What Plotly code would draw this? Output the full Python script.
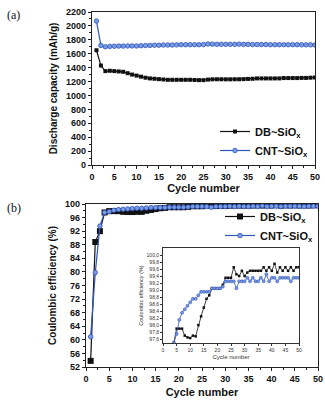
import plotly.graph_objects as go

W, H = 325, 400
cycles = list(range(1, 51))

# Panel (a) discharge capacity (mAh/g)
cap_db = [1650, 1430, 1350, 1355, 1350, 1345, 1340, 1320, 1300, 1285,
          1270, 1255, 1245, 1240, 1235, 1230, 1225, 1225, 1225, 1225,
          1225, 1225, 1222, 1220, 1220, 1228, 1232, 1233, 1233, 1232,
          1232, 1233, 1233, 1235, 1238, 1240, 1245, 1245, 1245, 1245,
          1245, 1245, 1250, 1250, 1250, 1250, 1252, 1252, 1255, 1258]
cap_cnt = [2070, 1720, 1700, 1705, 1708, 1710, 1710, 1712, 1712, 1712,
           1715, 1718, 1720, 1722, 1722, 1725, 1725, 1725, 1728, 1730,
           1730, 1730, 1730, 1730, 1732, 1740, 1738, 1735, 1735, 1735,
           1735, 1735, 1738, 1735, 1735, 1732, 1732, 1732, 1732, 1730,
           1730, 1730, 1730, 1730, 1730, 1730, 1728, 1728, 1728, 1725]

# Panel (b) coulombic efficiency (%)
ce_db = [53.8, 88.8, 92.0, 97.5, 97.9, 97.9, 97.9, 97.7, 97.65, 97.63,
         97.7, 97.68, 98.0, 98.25, 98.5, 98.75, 98.85, 99.05, 99.05, 99.05,
         99.05, 99.15, 99.35, 99.35, 99.35, 99.65, 99.45, 99.4, 99.55, 99.4,
         99.5, 99.55, 99.55, 99.55, 99.55, 99.55, 99.65, 99.55, 99.65, 99.55,
         99.75, 99.5, 99.65, 99.55, 99.65, 99.55, 99.65, 99.55, 99.65, 99.65]
ce_cnt = [60.9, 79.8, 93.5, 97.5, 97.75, 98.15, 98.35, 98.45, 98.55, 98.65,
          98.75, 98.75, 98.85, 98.95, 98.95, 98.95, 98.95, 99.05, 99.05, 99.05,
          99.05, 99.1, 99.25, 99.25, 99.25, 99.25, 99.05, 99.25, 99.25, 99.25,
          99.35, 99.25, 99.35, 99.25, 99.25, 99.35, 99.25, 99.45, 99.25, 99.35,
          99.35, 99.25, 99.35, 99.35, 99.35, 99.35, 99.25, 99.35, 99.35, 99.35]

# Tick labels
inset_yvals = [97.6, 97.8, 98.0, 98.2, 98.4, 98.6, 98.8, 99.0, 99.2, 99.4, 99.6, 99.8, 100.0]
inset_ytext = ["97,6", "97,8", "98,0", "98,2", "98,4", "98,6", "98,8", "99,0",
               "99,2", "99,4", "99,6", "99,8", "100,0"]

names = ["DB~SiO<sub>x</sub>", "CNT~SiO<sub>x</sub>"]
BLACK = "#111111"
BLUE = "#2f55c0"
BLUE_FILL = "#7b9be0"
FONT = "Liberation Sans, Arial, sans-serif"

def px_x(a, b):
    return [a / W, b / W]

def px_y(top, bottom):
    return [1 - bottom / H, 1 - top / H]

fig = go.Figure()

# (a)
fig.add_trace(go.Scatter(x=cycles, y=cap_db, mode="lines+markers", name=names[0],
                         line=dict(color=BLACK, width=1.2),
                         marker=dict(symbol="square", size=4, color=BLACK),
                         xaxis="x", yaxis="y", legend="legend"))
fig.add_trace(go.Scatter(x=cycles, y=cap_cnt, mode="lines+markers", name=names[1],
                         line=dict(color=BLUE, width=1.2),
                         marker=dict(symbol="circle", size=4.5, color=BLUE_FILL,
                                     line=dict(color=BLUE, width=0.8)),
                         xaxis="x", yaxis="y", legend="legend"))
# (b)
fig.add_trace(go.Scatter(x=cycles, y=ce_db, mode="lines+markers", name=names[0],
                         line=dict(color=BLACK, width=1.2),
                         marker=dict(symbol="square", size=6, color=BLACK),
                         xaxis="x2", yaxis="y2", legend="legend2"))
fig.add_trace(go.Scatter(x=cycles, y=ce_cnt, mode="lines+markers", name=names[1],
                         line=dict(color=BLUE, width=1.2),
                         marker=dict(symbol="circle", size=4.5, color=BLUE_FILL,
                                     line=dict(color=BLUE, width=0.8)),
                         xaxis="x2", yaxis="y2", legend="legend2"))
# inset
fig.add_trace(go.Scatter(x=cycles, y=ce_db, mode="lines+markers", showlegend=False,
                         line=dict(color=BLACK, width=0.8),
                         marker=dict(symbol="square", size=2.5, color=BLACK),
                         xaxis="x3", yaxis="y3"))
fig.add_trace(go.Scatter(x=cycles, y=ce_cnt, mode="lines+markers", showlegend=False,
                         line=dict(color=BLUE, width=0.8),
                         marker=dict(symbol="circle", size=3, color=BLUE_FILL,
                                     line=dict(color=BLUE, width=0.6)),
                         xaxis="x3", yaxis="y3"))

tickfont = dict(family=FONT, size=9, color="#111", weight="bold")
titlefont = dict(family=FONT, size=11, color="#111", weight="bold")
common = dict(showline=True, linecolor="#222", linewidth=1.3, mirror=True,
              ticks="outside", ticklen=3, tickwidth=1, tickcolor="#222",
              showgrid=False, zeroline=False, automargin=False, tickfont=tickfont)

fig.update_layout(
    width=W, height=H, margin=dict(l=0, r=0, t=0, b=0),
    paper_bgcolor="white", plot_bgcolor="white",
    xaxis=dict(domain=px_x(92, 315), anchor="y", range=[0, 50], dtick=5,
               minor=dict(ticks="outside", ticklen=2, dtick=2.5, tickcolor="#222"),
               title=dict(text="Cycle number", font=titlefont, standoff=2), **common),
    yaxis=dict(domain=px_y(12, 165), anchor="x", range=[0, 2200], dtick=200,
               minor=dict(ticks="outside", ticklen=2, dtick=100, tickcolor="#222"),
               title=dict(text="Discharge capacity (mAh/g)", font=dict(family=FONT, size=10, color="#111", weight="bold"), standoff=6), **common),
    xaxis2=dict(domain=px_x(86, 318), anchor="y2", range=[0, 50], dtick=5,
                minor=dict(ticks="outside", ticklen=2, dtick=2.5, tickcolor="#222"),
                title=dict(text="Cycle number", font=titlefont, standoff=5), **common),
    yaxis2=dict(domain=px_y(204, 367), anchor="x2", range=[52, 100], dtick=4,
                minor=dict(ticks="outside", ticklen=2, dtick=2, tickcolor="#222"),
                title=dict(text="Coulombic efficiency (%)", font=dict(family=FONT, size=10, color="#111", weight="bold"), standoff=6), **common),
    xaxis3=dict(domain=px_x(163, 299), anchor="y3", range=[0, 50], dtick=5,
                showline=True, linecolor="#333", linewidth=0.8, mirror=True,
                ticks="outside", ticklen=2, tickwidth=0.6, tickcolor="#333",
                showgrid=False, zeroline=False, automargin=False,
                tickfont=dict(family=FONT, size=5, color="#333"),
                title=dict(text="Cycle number", font=dict(family=FONT, size=6, color="#333"), standoff=2)),
    yaxis3=dict(domain=px_y(248, 343), anchor="x3", range=[97.49, 100.2],
                tickvals=inset_yvals, ticktext=inset_ytext,
                showline=True, linecolor="#333", linewidth=0.8, mirror=True,
                ticks="outside", ticklen=2, tickwidth=0.6, tickcolor="#333",
                showgrid=False, zeroline=False, automargin=False,
                tickfont=dict(family=FONT, size=5, color="#333"),
                title=dict(text="Coulombic efficiency (%)", font=dict(family=FONT, size=5.5, color="#333"), standoff=2)),
    legend=dict(x=215 / W, y=1 - 117 / H, xanchor="left", yanchor="top",
                bgcolor="rgba(0,0,0,0)", itemwidth=30, tracegroupgap=0,
                font=dict(family=FONT, size=11, color="#111", weight="bold")),
    legend2=dict(x=220 / W, y=1 - 202 / H, xanchor="left", yanchor="top",
                 bgcolor="rgba(0,0,0,0)", itemwidth=30, tracegroupgap=0,
                 font=dict(family=FONT, size=11, color="#111", weight="bold")),
    annotations=[
        dict(text="(a)", x=5 / W, y=1 - 15 / H, xref="paper", yref="paper",
             xanchor="left", yanchor="middle", showarrow=False,
             font=dict(family="Liberation Serif, Times New Roman, serif", size=12, color="#111")),
        dict(text="(b)", x=5 / W, y=1 - 208 / H, xref="paper", yref="paper",
             xanchor="left", yanchor="middle", showarrow=False,
             font=dict(family="Liberation Serif, Times New Roman, serif", size=12, color="#111")),
    ],
)

fig.write_html("out.html")
